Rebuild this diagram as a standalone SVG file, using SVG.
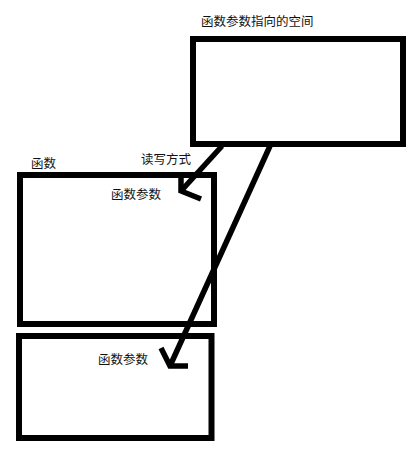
<svg xmlns="http://www.w3.org/2000/svg" width="416" height="451" viewBox="0 0 416 451">
<style>
.box{fill:#fff;stroke:#000;stroke-width:6}
.ln{fill:none;stroke:#000;stroke-width:5.5;stroke-linecap:butt;stroke-linejoin:miter}
text{font-family:"Noto Sans CJK SC","Noto Sans",sans-serif;font-size:12.5px;fill:#111}
</style>
<rect width="416" height="451" fill="#fff"/>
<g id="space">
<rect class="box" x="193" y="39" width="210" height="105"/>
<text x="201" y="26">函数参数指向的空间</text>
</g>
<g id="func">
<rect class="box" x="20" y="175" width="194" height="149"/>
<text x="31" y="168">函数</text>
<text x="111" y="199">函数参数</text>
</g>
<g id="param">
<rect class="box" x="19" y="336" width="192.5" height="102"/>
<text x="98" y="364">函数参数</text>
</g>
<g id="connectors">
<path class="ln" d="M222,146 L181,191"/>
<path class="ln" d="M181,177 L181,191 L201,199"/>
<text x="141" y="164">读写方式</text>
<path class="ln" d="M270,146 L170,366"/>
<path class="ln" d="M161,348 L170,366 L188,366"/>
</g>
</svg>
